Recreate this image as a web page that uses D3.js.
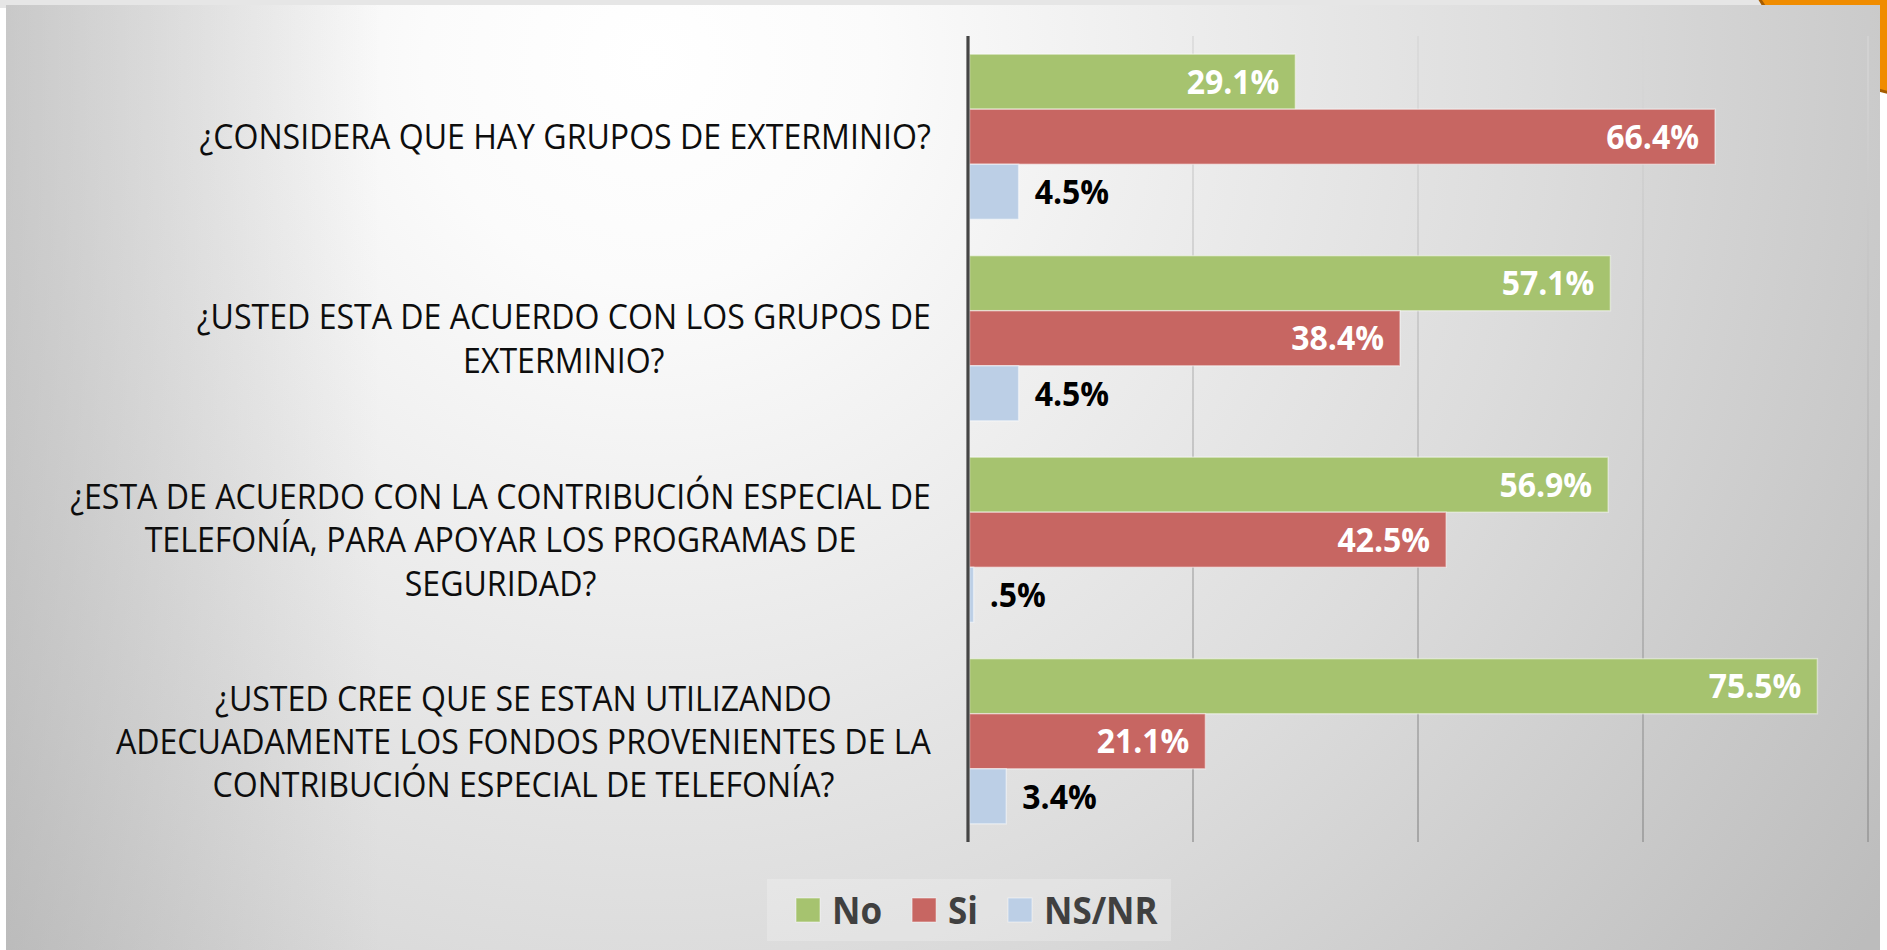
<!DOCTYPE html>
<html>
<head>
<meta charset="utf-8">
<script src="https://cdn.jsdelivr.net/npm/d3@7"></script>
<style>
  html, body { margin: 0; padding: 0; background: #fff; overflow: hidden; }
  svg { display: block; }
</style>
</head>
<body>
<div class="chart"></div>
<script>
// datos de la encuesta
var categoryLines = [
  ['¿CONSIDERA QUE HAY GRUPOS DE EXTERMINIO?'],
  ['¿USTED ESTA DE ACUERDO CON LOS GRUPOS DE', 'EXTERMINIO?'],
  ['¿ESTA DE ACUERDO CON LA CONTRIBUCIÓN ESPECIAL DE', 'TELEFONÍA, PARA APOYAR LOS PROGRAMAS DE', 'SEGURIDAD?'],
  ['¿USTED CREE QUE SE ESTAN UTILIZANDO', 'ADECUADAMENTE LOS FONDOS PROVENIENTES DE LA', 'CONTRIBUCIÓN ESPECIAL DE TELEFONÍA?']
];
var seriesNames = ['No', 'Si', 'NS/NR'];
var noValues = [29.1, 57.1, 56.9, 75.5];
var siValues = [66.4, 38.4, 42.5, 21.1];
var nsnrValues = [4.5, 4.5, 0.5, 3.4];
var gridTicks = [20, 40, 60, 80];

var colors = ['#a6c36f', '#c76662', '#bccfe6'];

var svg_width = 1887,
    svg_height = 950,
    svg = d3.select('.chart').append('svg').attr('width', svg_width).attr('height', svg_height),
    margin = {top: 36, right: 18, bottom: 108, left: 968},
    width = svg_width - margin.left - margin.right,
    height = svg_height - margin.top - margin.bottom;

var defs = svg.append('defs');

var bg = defs.append('radialGradient').attr('id', 'bg')
  .attr('gradientUnits', 'userSpaceOnUse')
  .attr('cx', 650).attr('cy', 60).attr('r', 1500);
bg.append('stop').attr('offset', 0).attr('stop-color', '#ffffff');
bg.append('stop').attr('offset', 0.15).attr('stop-color', '#fbfbfb');
bg.append('stop').attr('offset', 0.6).attr('stop-color', '#dcdcdc');
bg.append('stop').attr('offset', 1).attr('stop-color', '#bcbcbc');

var vign = defs.append('linearGradient').attr('id', 'vign')
  .attr('gradientUnits', 'userSpaceOnUse')
  .attr('x1', 6).attr('y1', 0).attr('x2', 380).attr('y2', 0);
vign.append('stop').attr('offset', 0).attr('stop-color', '#9a9a9a').attr('stop-opacity', 0.4);
vign.append('stop').attr('offset', 1).attr('stop-color', '#9a9a9a').attr('stop-opacity', 0);

var gridGrad = defs.append('linearGradient').attr('id', 'gridGrad')
  .attr('gradientUnits', 'userSpaceOnUse')
  .attr('x1', 0).attr('y1', margin.top).attr('x2', 0).attr('y2', margin.top + height);
gridGrad.append('stop').attr('offset', 0).attr('stop-color', '#d6d6d6');
gridGrad.append('stop').attr('offset', 1).attr('stop-color', '#8c8c8c');

// decoracion de la diapositiva
svg.append('rect').attr('x', 0).attr('y', 0).attr('width', svg_width).attr('height', 8).attr('fill', '#e6e6e6');
svg.append('circle').attr('cx', 1930).attr('cy', -100).attr('r', 197)
  .attr('fill', '#f08c00').attr('stroke', '#a65c00').attr('stroke-width', 3);
svg.append('rect').attr('x', 6).attr('y', 5).attr('width', 1874).attr('height', 945).attr('fill', 'url(#bg)');
svg.append('rect').attr('x', 6).attr('y', 5).attr('width', 380).attr('height', 945).attr('fill', 'url(#vign)');

var g = svg.append('g').attr('transform', 'translate(' + margin.left + ',' + margin.top + ')');

var x = d3.scaleLinear().domain([0, 80]).range([0, 900]);
var y0 = d3.scaleBand().domain(d3.range(categoryLines.length)).range([0, height]).padding(0);
var y1 = d3.scaleBand().domain(seriesNames).range([0, y0.bandwidth()]).paddingInner(0).paddingOuter(0.33);

var table = categoryLines.map(function(lines, i) {
  return {i: i, lines: lines, vals: [
    {s: 'No', v: noValues[i]},
    {s: 'Si', v: siValues[i]},
    {s: 'NS/NR', v: nsnrValues[i]}
  ]};
});

// lineas de division
g.selectAll('.grid').data(gridTicks).enter().append('line')
  .attr('class', 'grid')
  .attr('x1', function(d) { return x(d); })
  .attr('x2', function(d) { return x(d); })
  .attr('y1', 0).attr('y2', height)
  .attr('stroke', 'url(#gridGrad)').attr('stroke-width', 1.3);

var fmt = function(v) { return d3.format('.1f')(v).replace(/^0/, '') + '%'; };

var groups = g.selectAll('.grp').data(table).enter().append('g')
  .attr('class', 'grp')
  .attr('transform', function(d) { return 'translate(0,' + y0(d.i) + ')'; });

groups.selectAll('rect').data(function(d) { return d.vals; }).enter().append('rect')
  .attr('x', x(0) + 1.5)
  .attr('y', function(d) { return y1(d.s); })
  .attr('width', function(d) { return x(d.v) - x(0) - 1.5; })
  .attr('height', y1.bandwidth())
  .attr('fill', function(d) { return colors[seriesNames.indexOf(d.s)]; })
  .attr('stroke', 'rgba(255,255,255,0.45)').attr('stroke-width', 1.5);

groups.selectAll('.lbl').data(function(d) { return d.vals; }).enter().append('text')
  .attr('class', 'lbl')
  .attr('x', function(d) { return d.v > 15 ? x(d.v) - 16 : x(d.v) + 16; })
  .attr('y', function(d) { return y1(d.s) + y1.bandwidth() / 2; })
  .attr('dy', '0.36em')
  .attr('text-anchor', function(d) { return d.v > 15 ? 'end' : 'start'; })
  .attr('font-family', 'Open Sans, sans-serif')
  .attr('font-weight', 'bold')
  .attr('font-size', 34)
  .attr('fill', function(d) { return d.v > 15 ? '#ffffff' : '#000000'; })
  .text(function(d) { return fmt(d.v); })
  .each(function() {
    this.setAttribute('textLength', this.getComputedTextLength() * 0.94);
    this.setAttribute('lengthAdjust', 'spacingAndGlyphs');
  });

// eje vertical
g.append('line').attr('x1', x(0)).attr('x2', x(0)).attr('y1', 0).attr('y2', height)
  .attr('stroke', '#454545').attr('stroke-width', 3.2);

// etiquetas de categoria
var catG = svg.append('g');
var lineH = 43.3;
var blocks = catG.selectAll('.cat').data(table).enter().append('g').attr('class', 'cat');
blocks.selectAll('text').data(function(d) { return d.lines.map(function(t, k) { return {t: t, k: k, n: d.lines.length}; }); })
  .enter().append('text')
  .attr('x', 0)
  .attr('y', function(d) { return (d.k - (d.n - 1) / 2) * lineH; })
  .attr('dy', '0.36em')
  .attr('text-anchor', 'middle')
  .attr('font-family', 'Open Sans, sans-serif')
  .attr('font-size', 35)
  .attr('fill', '#0d0d0d')
  .text(function(d) { return d.t; });

var maxW = 0;
blocks.selectAll('text').each(function() { maxW = Math.max(maxW, this.getComputedTextLength()); });
var sx = 861 / maxW;
blocks.each(function(d) {
  var w = 0;
  d3.select(this).selectAll('text').each(function() { w = Math.max(w, this.getComputedTextLength()); });
  var cy = margin.top + y0(d.i) + y0.bandwidth() / 2;
  d3.select(this).attr('transform', 'translate(' + (931 - w * sx / 2) + ',' + cy + ') scale(' + sx + ',1)');
});

// leyenda
var leg = svg.append('g');
leg.append('rect').attr('x', 767).attr('y', 879).attr('width', 404).attr('height', 62)
  .attr('fill', 'rgba(255,255,255,0.22)');
var lx = 796;
seriesNames.forEach(function(s, i) {
  leg.append('rect').attr('x', lx).attr('y', 898).attr('width', 24).attr('height', 24)
    .attr('fill', colors[i]).attr('stroke', 'rgba(255,255,255,0.5)').attr('stroke-width', 1);
  var t = leg.append('text').attr('x', lx + 36).attr('y', 910).attr('dy', '0.36em')
    .attr('font-family', 'Open Sans, sans-serif').attr('font-weight', 'bold')
    .attr('font-size', 38).attr('fill', '#404040').text(s);
  var tw = t.node().getComputedTextLength() * 0.92;
  t.attr('textLength', tw).attr('lengthAdjust', 'spacingAndGlyphs');
  lx = lx + 36 + tw + 30;
});
</script>
</body>
</html>
